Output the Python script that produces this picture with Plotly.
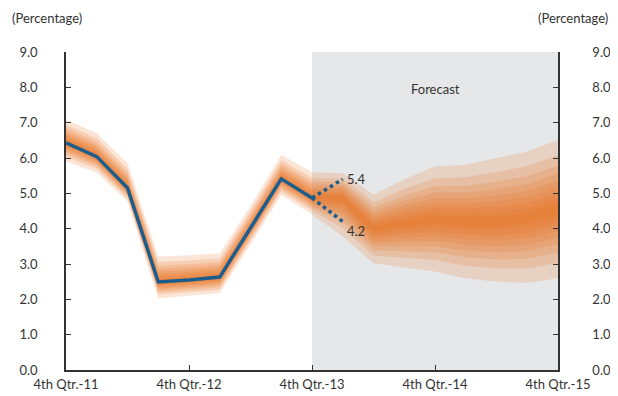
import plotly.graph_objects as go

# quarters shown on the x axis
quarters = [
    "4th Qtr.-11", "1st Qtr.-12", "2nd Qtr.-12", "3rd Qtr.-12",
    "4th Qtr.-12", "1st Qtr.-13", "2nd Qtr.-13", "3rd Qtr.-13",
    "4th Qtr.-13", "1st Qtr.-14", "2nd Qtr.-14", "3rd Qtr.-14",
    "4th Qtr.-14", "1st Qtr.-15", "2nd Qtr.-15", "3rd Qtr.-15",
    "4th Qtr.-15",
]
tick_quarters = ["4th Qtr.-11", "4th Qtr.-12", "4th Qtr.-13", "4th Qtr.-14", "4th Qtr.-15"]

# observed values (blue line)
observed = [6.43, 6.04, 5.15, 2.49, 2.55, 2.63, 4.02, 5.41, 4.87]

# fan chart: centre and outer bounds
fan_center = [6.45, 6.05, 5.15, 2.50, 2.55, 2.63, 4.00, 5.42, 4.88,
              4.87, 4.00, 4.15, 4.25, 4.20, 4.20, 4.30, 4.55]
fan_upper = [7.08, 6.70, 5.85, 3.21, 3.25, 3.30, 4.65, 6.09, 5.60,
             5.57, 4.96, 5.40, 5.76, 5.81, 6.00, 6.18, 6.52]
fan_lower = [5.90, 5.59, 4.77, 2.03, 2.10, 2.17, 3.55, 4.95, 4.40,
             3.78, 3.02, 2.90, 2.79, 2.60, 2.50, 2.47, 2.60]

# share of the outer width taken by each band (outer -> inner)
band_levels = [1.0, 0.78, 0.63, 0.51, 0.41, 0.32, 0.23, 0.15, 0.08]

# scenario ends for Q1-14
scenario_high = 5.4
scenario_low = 4.2

font_family = "Lato, 'Open Sans', sans-serif"
txt_color = "#333333"
blue = "#1b5e8e"

fig = go.Figure()

# fan bands, outer first
for lev in band_levels:
    up = [c + (u - c) * lev for c, u in zip(fan_center, fan_upper)]
    lo = [c - (c - l) * lev for c, l in zip(fan_center, fan_lower)]
    fig.add_trace(go.Scatter(
        x=quarters + quarters[::-1],
        y=up + lo[::-1],
        fill="toself",
        fillcolor="rgba(234,112,30,0.18)",
        line=dict(width=0),
        mode="lines",
        hoverinfo="skip",
        showlegend=False,
    ))

# scenario dotted lines
for end in [scenario_high, scenario_low]:
    fig.add_trace(go.Scatter(
        x=[quarters[8], quarters[9]],
        y=[observed[-1], end],
        mode="lines",
        line=dict(color=blue, width=3.5, dash="dot"),
        hoverinfo="skip",
        showlegend=False,
    ))

# observed line
fig.add_trace(go.Scatter(
    x=quarters[:len(observed)],
    y=observed,
    mode="lines",
    line=dict(color=blue, width=3.5),
    hoverinfo="skip",
    showlegend=False,
))

# invisible trace so the right axis is drawn
fig.add_trace(go.Scatter(x=[quarters[0]], y=[0], yaxis="y2", mode="markers",
                         marker=dict(opacity=0), hoverinfo="skip", showlegend=False))

# forecast shading
fig.add_shape(type="rect", xref="x", yref="y",
              x0=quarters[8], x1=quarters[16], y0=0, y1=9,
              fillcolor="#e6e7e8", line=dict(width=0), layer="below")

fig.add_annotation(x=quarters[12], y=7.95, text="Forecast", showarrow=False,
                   font=dict(size=13, color=txt_color))
fig.add_annotation(x=quarters[9], y=scenario_high, text="5.4", showarrow=False,
                   xanchor="left", xshift=2, font=dict(size=13, color=txt_color))
fig.add_annotation(x=quarters[9], y=scenario_low, text="4.2", showarrow=False,
                   xanchor="left", xshift=2, yshift=-9, font=dict(size=13, color=txt_color))

fig.add_annotation(xref="paper", yref="paper", x=-0.114, y=1.107, text="(Percentage)",
                   showarrow=False, xanchor="left", yanchor="middle",
                   font=dict(size=13, color=txt_color))
fig.add_annotation(xref="paper", yref="paper", x=1.106, y=1.107, text="(Percentage)",
                   showarrow=False, xanchor="right", yanchor="middle",
                   font=dict(size=13, color=txt_color))

yax = dict(
    range=[0, 9], tickvals=[0, 1, 2, 3, 4, 5, 6, 7, 8, 9], tickformat=".1f",
    showgrid=False, zeroline=False, showline=True, linecolor="#333333", linewidth=1.5,
    ticks="inside", ticklen=5, tickcolor="#333333",
    tickfont=dict(size=13, color=txt_color, family=font_family),
    ticklabelstandoff=24, automargin=False,
)

# the page puts the figure 8px in from the corner, so size it to fit
fig.update_layout(
    width=610, height=388,
    margin=dict(l=58, r=60, t=44, b=26),
    paper_bgcolor="white", plot_bgcolor="white",
    font=dict(family=font_family, color=txt_color, size=13),
    xaxis=dict(
        type="category", categoryorder="array", categoryarray=quarters,
        range=[0, 16], tickvals=tick_quarters, ticktext=tick_quarters,
        showgrid=False, zeroline=False, showline=True, linecolor="#333333", linewidth=1.5,
        ticks="inside", ticklen=5, tickcolor="#333333",
        tickfont=dict(size=13, color=txt_color, family=font_family),
        ticklabelstandoff=2, automargin=False,
    ),
    yaxis=yax,
    yaxis2=dict(yax, overlaying="y", side="right", matches="y", ticklabelstandoff=30),
)

fig.write_html("out.html")
